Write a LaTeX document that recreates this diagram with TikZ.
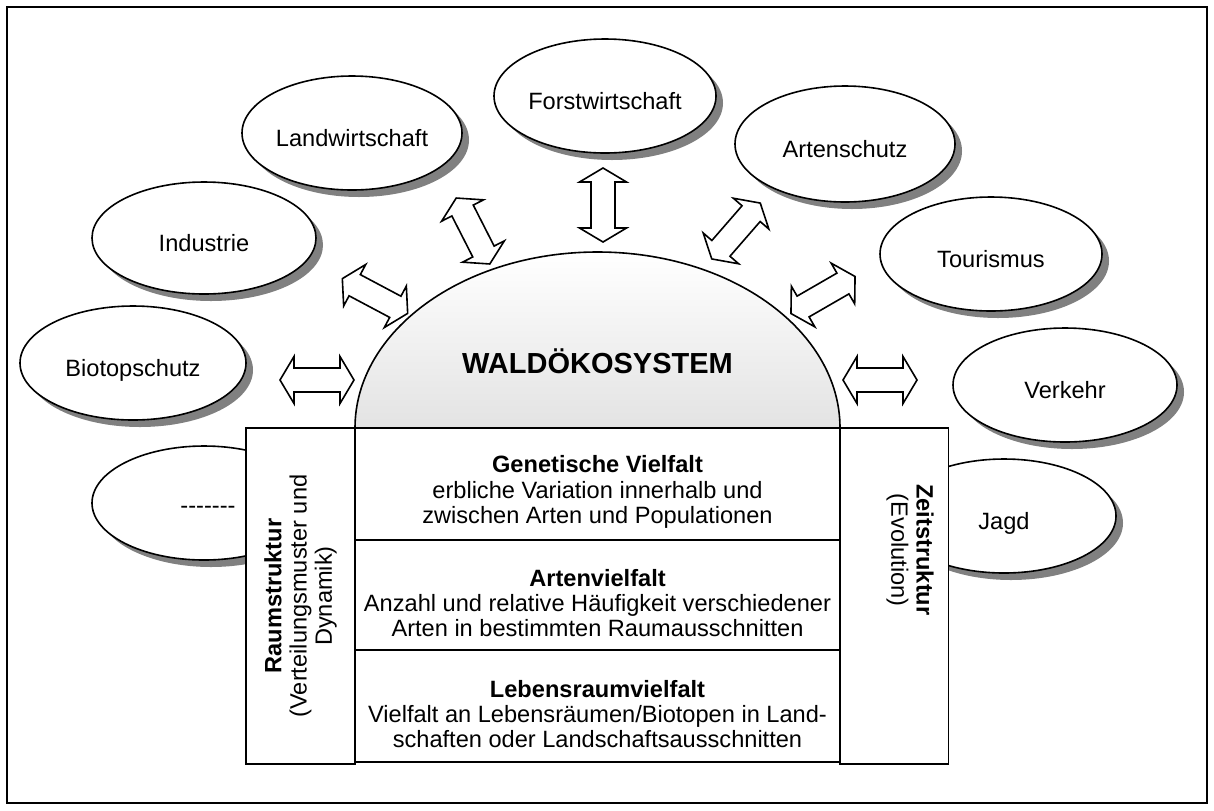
\documentclass[tikz,border=0pt]{standalone}
\usepackage{fontspec}
\setmainfont{Liberation Sans}
\usetikzlibrary{shapes.geometric, shadows, positioning}
\definecolor{cshadow}{gray}{0.5}
\definecolor{cdome}{gray}{0.89}
\newcommand\hyph{\hbox{-}}

\begin{document}
\begin{tikzpicture}[
    x=0.5pt, y=0.5pt,
    line width=0.8pt,
    every node/.style={font=\fontsize{11.8}{12.6}\selectfont},
    bubble/.style={ellipse, draw, fill=white, inner sep=0pt, text height=13.6pt, text depth=0pt, drop shadow={shadow xshift=3.5pt, shadow yshift=-3.5pt, fill=cshadow, opacity=1}},
    rowbox/.style={draw, fill=white, minimum width=242.5pt, inner sep=0pt, outer sep=0pt},
    rowtext/.style={align=center, inner sep=0pt},
    sidebox/.style={draw, fill=white, minimum width=54.5pt, minimum height=168pt, inner sep=0pt, outer sep=0pt},
    dblarrow/.pic={\draw[fill=white] (-37,0) -- (-23,23.5) -- (-23,12) -- (23,12) -- (23,23.5) -- (37,0) -- (23,-23.5) -- (23,-12) -- (-23,-12) -- (-23,-23.5) -- cycle;}
]
\useasboundingbox (0,0) rectangle (1214,-810);
\draw (7,-7) rectangle (1207,-803);

% uses around the forest
\node[bubble, minimum width=110pt, minimum height=57pt] (lw) at (352,-133) {Landwirtschaft};
\node[bubble, minimum width=112pt, minimum height=56pt] (ind) at (204,-238) {Industrie};
\node[bubble, minimum width=113pt, minimum height=57pt] (bio) at (133,-363) {Biotopschutz};
\node[bubble, minimum width=112pt, minimum height=57pt] (misc) at (204,-503) {};
\node (misctxt) at (208,-510) {\hyph\hyph\hyph\hyph\hyph\hyph\hyph};
\node[bubble, minimum width=111pt, minimum height=57pt] (fw) at (605,-96) {Forstwirtschaft};
\node[bubble, minimum width=110pt, minimum height=58pt] (art) at (845,-144) {Artenschutz};
\node[bubble, minimum width=111pt, minimum height=57pt] (tour) at (991,-254) {Tourismus};
\node[bubble, minimum width=112pt, minimum height=57pt] (verk) at (1065,-385) {Verkehr};
\node[bubble, minimum width=112pt, minimum height=57pt] (jagd) at (1004,-516) {Jagd};

% interactions
\pic at (317,-380) {dblarrow};
\pic[rotate=-28] at (375,-296) {dblarrow};
\pic[rotate=-63] at (473,-231) {dblarrow};
\pic[rotate=90] at (603,-205) {dblarrow};
\pic[rotate=49] at (736,-231) {dblarrow};
\pic[rotate=30] at (823,-295) {dblarrow};
\pic at (880,-380) {dblarrow};

% dome
\draw[top color=white, bottom color=cdome] (355,-428) arc[start angle=180, end angle=0, x radius=242.5, y radius=176] -- cycle;
\node[font=\bfseries\fontsize{14.5}{17}\selectfont] (wald) at (597.5,-361) {WALDÖKOSYSTEM};

% structure
\node[sidebox] (raum) at (300.5,-596) {};
\node[sidebox] (zeit) at (894,-596) {};
\node[rotate=90, align=center] (raumtxt) at (raum.center) {\textbf{Raumstruktur}\\(Verteilungsmuster und\\Dynamik)};
\node[rotate=-90, align=center] (zeittxt) at ([xshift=8pt, yshift=23pt]zeit.center) {\textbf{Zeitstruktur}\\(Evolution)};

\node[rowbox, minimum height=56pt] (gen) at (597.5,-484) {};
\node[rowbox, minimum height=55pt, below=0pt of gen] (arten) {};
\node[rowbox, minimum height=56pt, below=0pt of arten] (lebens) {};
\node[rowtext] (gentxt) at ([yshift=-4pt]gen.center) {\textbf{Genetische Vielfalt}\\erbliche Variation innerhalb und\\zwischen Arten und Populationen};
\node[rowtext] (artentxt) at ([yshift=-4pt]arten.center) {\textbf{Artenvielfalt}\\Anzahl und relative Häufigkeit verschiedener\\Arten in bestimmten Raumausschnitten};
\node[rowtext] (lebenstxt) at ([yshift=-4pt]lebens.center) {\textbf{Lebensraumvielfalt}\\Vielfalt an Lebensräumen/Biotopen in Land-\\schaften oder Landschaftsausschnitten};
\end{tikzpicture}
\end{document}
